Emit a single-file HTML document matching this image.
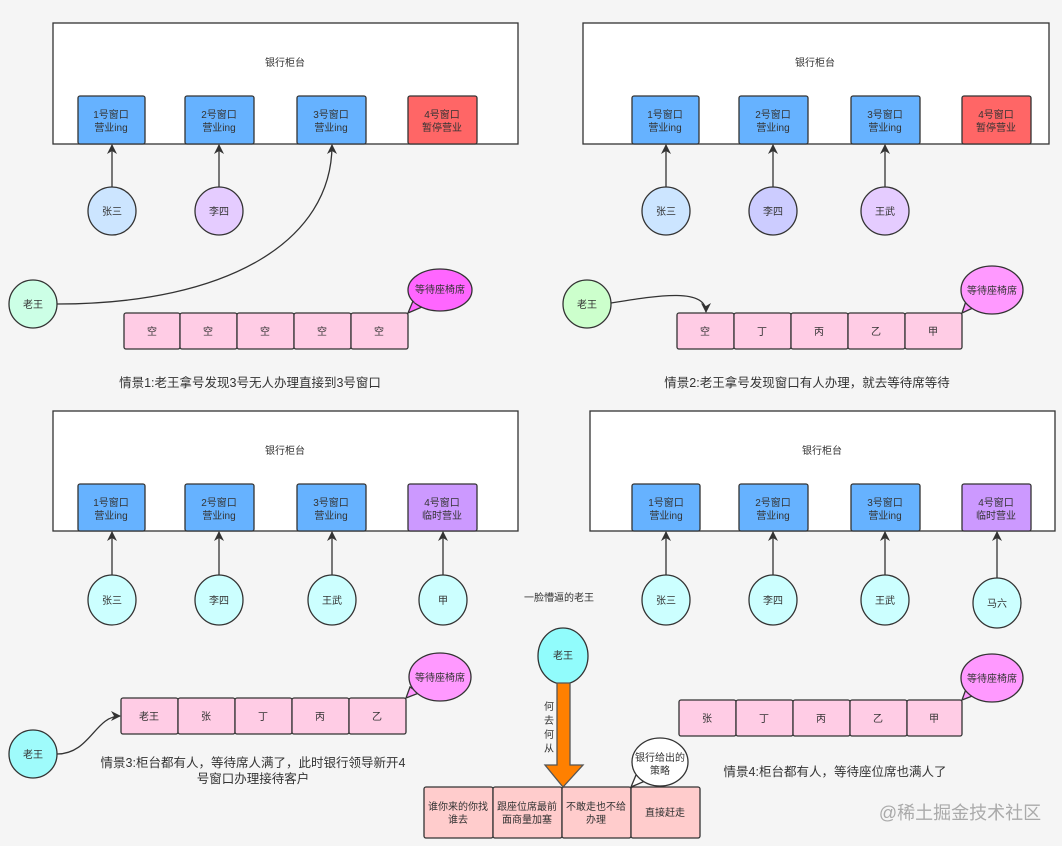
<!DOCTYPE html>
<html><head><meta charset="utf-8"><style>
html,body{margin:0;padding:0;background:#f5f5f5;}
svg{display:block;}
text{font-family:"Liberation Sans","Noto Sans CJK SC",sans-serif;fill:#333;text-anchor:middle;}
.s{font-size:10px;}
.c{font-size:12.5px;fill:#333;}
</style></head><body>
<svg width="1062" height="846" viewBox="0 0 1062 846" xmlns="http://www.w3.org/2000/svg">
<defs>
<marker id="ar" markerWidth="10" markerHeight="10" refX="9" refY="5" orient="auto" markerUnits="userSpaceOnUse">
<path d="M0,0 L10,5 L0,10 L3,5 z" fill="#333"/></marker>
</defs>
<rect width="1062" height="846" fill="#f5f5f5"/>
<g stroke="#333" stroke-width="1.3">
<rect x="53" y="23" width="465" height="121" fill="#fff"/>
<rect x="583" y="23" width="466" height="121" fill="#fff"/>
<rect x="53" y="411" width="465" height="120" fill="#fff"/>
<rect x="590" y="411" width="465" height="120" fill="#fff"/>
<rect x="78" y="96" width="67" height="48" rx="2" fill="#66b2ff"/>
<rect x="185" y="96" width="69" height="48" rx="2" fill="#66b2ff"/>
<rect x="297" y="96" width="69" height="48" rx="2" fill="#66b2ff"/>
<rect x="408" y="96" width="69" height="48" rx="2" fill="#ff6666"/>
<rect x="632" y="96" width="67" height="48" rx="2" fill="#66b2ff"/>
<rect x="739" y="96" width="69" height="48" rx="2" fill="#66b2ff"/>
<rect x="851" y="96" width="69" height="48" rx="2" fill="#66b2ff"/>
<rect x="962" y="96" width="69" height="48" rx="2" fill="#ff6666"/>
<rect x="78" y="484" width="67" height="47" rx="2" fill="#66b2ff"/>
<rect x="185" y="484" width="69" height="47" rx="2" fill="#66b2ff"/>
<rect x="297" y="484" width="69" height="47" rx="2" fill="#66b2ff"/>
<rect x="408" y="484" width="69" height="47" rx="2" fill="#cc99ff"/>
<rect x="632" y="484" width="68" height="47" rx="2" fill="#66b2ff"/>
<rect x="739" y="484" width="69" height="47" rx="2" fill="#66b2ff"/>
<rect x="851" y="484" width="69" height="47" rx="2" fill="#66b2ff"/>
<rect x="962" y="484" width="69" height="47" rx="2" fill="#cc99ff"/>
<circle cx="112" cy="211" r="24" fill="#cce5ff"/>
<circle cx="219" cy="211" r="24" fill="#e5ccff"/>
<circle cx="33" cy="304" r="24" fill="#ccffe6"/>
<circle cx="666" cy="211" r="24" fill="#cce5ff"/>
<circle cx="773" cy="211" r="24" fill="#ccccff"/>
<circle cx="885" cy="211" r="24" fill="#e5ccff"/>
<circle cx="587" cy="304" r="24" fill="#ccffcc"/>
<ellipse cx="112" cy="600" rx="24" ry="25" fill="#ccffff"/>
<ellipse cx="219" cy="600" rx="24" ry="25" fill="#ccffff"/>
<ellipse cx="332" cy="600" rx="24" ry="25" fill="#ccffff"/>
<ellipse cx="443" cy="600" rx="24" ry="25" fill="#ccffff"/>
<ellipse cx="666" cy="600" rx="24" ry="25" fill="#ccffff"/>
<ellipse cx="773" cy="600" rx="24" ry="25" fill="#ccffff"/>
<ellipse cx="885" cy="600" rx="24" ry="25" fill="#ccffff"/>
<ellipse cx="997" cy="603" rx="24" ry="25" fill="#ccffff"/>
<circle cx="33" cy="754" r="24" fill="#66ffff" fill-opacity=".6"/>
<ellipse cx="563" cy="656" rx="25" ry="28" fill="#66ffff" fill-opacity=".7"/>
<g fill="none" marker-end="url(#ar)">
<line x1="112" y1="187" x2="112" y2="145"/>
<line x1="219" y1="187" x2="219" y2="145"/>
<path d="M57,304 C230,304 332,240 332,145"/>
<line x1="666" y1="187" x2="666" y2="145"/>
<line x1="773" y1="187" x2="773" y2="145"/>
<line x1="885" y1="187" x2="885" y2="145"/>
<path d="M611,303 C660,295 706,288 706,312"/>
<line x1="112" y1="575" x2="112" y2="532"/>
<line x1="219" y1="575" x2="219" y2="532"/>
<line x1="332" y1="575" x2="332" y2="532"/>
<line x1="443" y1="575" x2="443" y2="532"/>
<line x1="666" y1="575" x2="666" y2="532"/>
<line x1="773" y1="575" x2="773" y2="532"/>
<line x1="885" y1="575" x2="885" y2="532"/>
<line x1="997" y1="578" x2="997" y2="532"/>
<path d="M57,754 C90,754 95,716 120,716"/>
</g>
<g fill="#ffcce5">
<rect x="124" y="313" width="56" height="36" rx="2"/><rect x="180" y="313" width="57" height="36" rx="2"/><rect x="237" y="313" width="57" height="36" rx="2"/><rect x="294" y="313" width="57" height="36" rx="2"/><rect x="351" y="313" width="57" height="36" rx="2"/>
<rect x="677" y="313" width="57" height="36" rx="2"/><rect x="734" y="313" width="57" height="36" rx="2"/><rect x="791" y="313" width="57" height="36" rx="2"/><rect x="848" y="313" width="57" height="36" rx="2"/><rect x="905" y="313" width="57" height="36" rx="2"/>
<rect x="121" y="698" width="57" height="36" rx="2"/><rect x="178" y="698" width="57" height="36" rx="2"/><rect x="235" y="698" width="57" height="36" rx="2"/><rect x="292" y="698" width="57" height="36" rx="2"/><rect x="349" y="698" width="57" height="36" rx="2"/>
<rect x="679" y="700" width="57" height="36" rx="2"/><rect x="736" y="700" width="57" height="36" rx="2"/><rect x="793" y="700" width="57" height="36" rx="2"/><rect x="850" y="700" width="57" height="36" rx="2"/><rect x="907" y="700" width="55" height="36" rx="2"/>
</g>
<g fill="#ffcccc">
<rect x="424" y="787" width="69" height="51" rx="2"/><rect x="493" y="787" width="69" height="51" rx="2"/><rect x="562" y="787" width="69" height="51" rx="2"/><rect x="631" y="787" width="69" height="51" rx="2"/>
</g>
<!-- bubbles: ellipse + tail -->
<g>
<path d="M408,313 L413,301 L422,307 Z" fill="#ff66ff"/>
<ellipse cx="440" cy="290" rx="32" ry="21" fill="#ff66ff"/>
<path d="M962,313 L966,301 L975,307 Z" fill="#ff99ff"/>
<ellipse cx="992" cy="290" rx="31" ry="24" fill="#ff99ff"/>
<path d="M406,698 L410,687 L419,693 Z" fill="#ff99ff"/>
<ellipse cx="440" cy="677" rx="31" ry="24" fill="#ff99ff"/>
<path d="M962,700 L966,689 L975,695 Z" fill="#ff99ff"/>
<ellipse cx="992" cy="678" rx="31" ry="24" fill="#ff99ff"/>
<path d="M631,787 L636,775 L645,781 Z" fill="#fff"/>
<ellipse cx="660" cy="762" rx="28" ry="24" fill="#fff"/>
</g>
<path d="M557,683 L570,683 L570,765 L583,765 L563,787 L545,765 L557,765 Z" fill="#ff8000" stroke="#555"/>
</g>
<!-- cover tail joins -->
<g stroke="none">
<path d="M414,302 L421,306 L418,301 Z" fill="#ff66ff"/>
</g>
<g class="s">
<text x="285" y="66">银行柜台</text><text x="815" y="66">银行柜台</text>
<text x="285" y="454">银行柜台</text><text x="822" y="454">银行柜台</text>
<text x="111" y="118">1号窗口</text><text x="111" y="131">营业ing</text>
<text x="219" y="118">2号窗口</text><text x="219" y="131">营业ing</text>
<text x="331" y="118">3号窗口</text><text x="331" y="131">营业ing</text>
<text x="442" y="118">4号窗口</text><text x="442" y="131">暂停营业</text>
<text x="665" y="118">1号窗口</text><text x="665" y="131">营业ing</text>
<text x="773" y="118">2号窗口</text><text x="773" y="131">营业ing</text>
<text x="885" y="118">3号窗口</text><text x="885" y="131">营业ing</text>
<text x="996" y="118">4号窗口</text><text x="996" y="131">暂停营业</text>
<text x="111" y="506">1号窗口</text><text x="111" y="519">营业ing</text>
<text x="219" y="506">2号窗口</text><text x="219" y="519">营业ing</text>
<text x="331" y="506">3号窗口</text><text x="331" y="519">营业ing</text>
<text x="442" y="506">4号窗口</text><text x="442" y="519">临时营业</text>
<text x="666" y="506">1号窗口</text><text x="666" y="519">营业ing</text>
<text x="773" y="506">2号窗口</text><text x="773" y="519">营业ing</text>
<text x="885" y="506">3号窗口</text><text x="885" y="519">营业ing</text>
<text x="996" y="506">4号窗口</text><text x="996" y="519">临时营业</text>
<text x="112" y="215">张三</text><text x="219" y="215">李四</text><text x="33" y="308">老王</text>
<text x="666" y="215">张三</text><text x="773" y="215">李四</text><text x="885" y="215">王武</text><text x="587" y="308">老王</text>
<text x="112" y="604">张三</text><text x="219" y="604">李四</text><text x="332" y="604">王武</text><text x="443" y="604">甲</text>
<text x="666" y="604">张三</text><text x="773" y="604">李四</text><text x="885" y="604">王武</text><text x="997" y="607">马六</text>
<text x="33" y="758">老王</text><text x="563" y="659">老王</text>
<text x="559" y="601">一脸懵逼的老王</text>
<text x="152" y="335">空</text><text x="208" y="335">空</text><text x="265" y="335">空</text><text x="322" y="335">空</text><text x="379" y="335">空</text>
<text x="705" y="335">空</text><text x="762" y="335">丁</text><text x="819" y="335">丙</text><text x="876" y="335">乙</text><text x="933" y="335">甲</text>
<text x="149" y="720">老王</text><text x="206" y="720">张</text><text x="263" y="720">丁</text><text x="320" y="720">丙</text><text x="377" y="720">乙</text>
<text x="707" y="722">张</text><text x="764" y="722">丁</text><text x="821" y="722">丙</text><text x="878" y="722">乙</text><text x="934" y="722">甲</text>
<text x="440" y="293">等待座椅席</text><text x="992" y="294">等待座椅席</text>
<text x="440" y="681">等待座椅席</text><text x="992" y="682">等待座椅席</text>
<text x="660" y="761">银行给出的</text><text x="660" y="774">策略</text>
<text x="458" y="810">谁你来的你找</text><text x="458" y="823">谁去</text>
<text x="527" y="810">跟座位席最前</text><text x="527" y="823">面商量加塞</text>
<text x="596" y="810">不敢走也不给</text><text x="596" y="823">办理</text>
<text x="665" y="816">直接赶走</text>
<text x="549" y="710">何</text><text x="549" y="724">去</text><text x="549" y="738">何</text><text x="549" y="752">从</text>
</g>
<text class="c" x="250" y="387">情景1:老王拿号发现3号无人办理直接到3号窗口</text>
<text class="c" x="807" y="387">情景2:老王拿号发现窗口有人办理，就去等待席等待</text>
<text class="c" x="253" y="767">情景3:柜台都有人，等待席人满了，此时银行领导新开4</text>
<text class="c" x="253" y="783">号窗口办理接待客户</text>
<text class="c" x="835" y="776">情景4:柜台都有人，等待座位席也满人了</text>
<text x="960" y="819" style="font-size:18px;fill:#aaa;">@稀土掘金技术社区</text>
</svg>
</body></html>
